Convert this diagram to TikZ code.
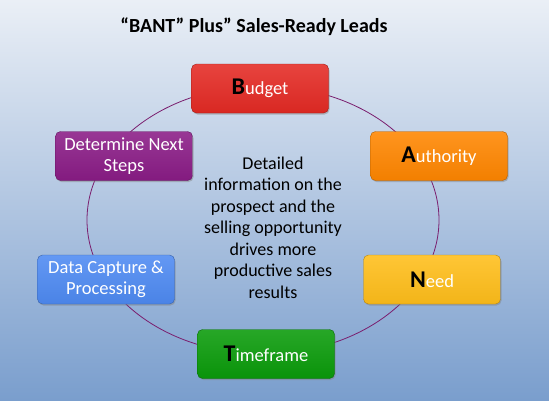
\documentclass[tikz,border=0pt]{standalone}
\usepackage{fontspec}
\setmainfont{Carlito}
\usetikzlibrary{shadows}

\definecolor{budgetred}{RGB}{228,42,36}
\definecolor{authorange}{RGB}{255,134,0}
\definecolor{nextpurple}{RGB}{138,28,134}
\definecolor{captureblue}{RGB}{78,138,242}
\definecolor{needgold}{RGB}{255,190,26}
\definecolor{timegreen}{RGB}{10,155,10}
\definecolor{ringpurple}{RGB}{122,30,110}
\definecolor{bgtop}{RGB}{234,239,246}
\definecolor{bgmid}{RGB}{176,198,226}
\definecolor{bgbottom}{RGB}{122,158,205}

\newcommand{\initial}[1]{{\fontsize{24}{24}\selectfont\bfseries\color{black}#1}}

\begin{document}
\begin{tikzpicture}[x=1pt,y=-1pt,
    bantbox/.style={rounded corners=5pt, minimum width=137pt, minimum height=49pt,
      text=white, align=center, font=\fontsize{18.5}{21}\selectfont,
      drop shadow={shadow xshift=1pt, shadow yshift=-1.5pt, opacity=0.45}},
    ring/.style={draw=ringpurple, line width=0.8pt}]

            % background
            \shade[top color=bgtop, middle color=bgmid, bottom color=bgbottom] (0,0) rectangle (549,400);

            % title
            \node[font=\fontsize{20}{22}\selectfont\bfseries] (title) at (254,27) {“BANT” Plus” Sales-Ready Leads};

            % the ring behind the boxes
            \draw[ring] (263,220) ellipse [x radius=176, y radius=134];

            % the six boxes
            \node[bantbox, top color=budgetred!88!white, bottom color=budgetred!95!black, draw=budgetred!70!black] (budget) at (260,88.5) {\initial{B}udget};
            \node[bantbox, top color=authorange!88!white, bottom color=authorange!95!black, draw=authorange!70!black] (authority) at (439,156) {\initial{A}uthority};
            \node[bantbox, top color=needgold!88!white, bottom color=needgold!95!black, draw=needgold!70!black] (need) at (432,279.5) {\initial{N}eed};
            \node[bantbox, top color=timegreen!88!white, bottom color=timegreen!95!black, draw=timegreen!70!black] (timeframe) at (266,354) {\initial{T}imeframe};
            \node[bantbox, top color=captureblue!88!white, bottom color=captureblue!95!black, draw=captureblue!70!black] (capture) at (106,279.5) {Data Capture \&\\Processing};
            \node[bantbox, top color=nextpurple!88!white, bottom color=nextpurple!95!black, draw=nextpurple!70!black] (nextsteps) at (124,156) {Determine Next\\Steps};

            % text in the middle
            \node[align=center, font=\fontsize{18}{21.5}\selectfont] (middle) at (273,227.5) {Detailed\\information on the\\prospect and the\\selling opportunity\\drives more\\productive sales\\results};

\end{tikzpicture}
\end{document}
